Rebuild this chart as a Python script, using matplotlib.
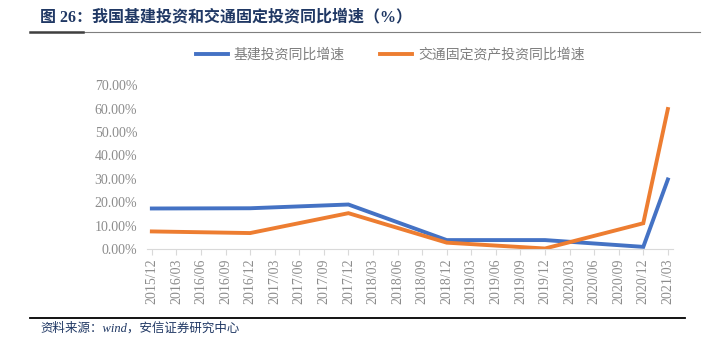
import numpy as np
import matplotlib
matplotlib.use("Agg")
import matplotlib.pyplot as plt
from matplotlib.lines import Line2D

plt.rcParams['font.family'] = ['Liberation Serif', 'Noto Sans CJK SC', 'DejaVu Sans']

dates = ["2015/12", "2016/03", "2016/06", "2016/09", "2016/12", "2017/03",
         "2017/06", "2017/09", "2017/12", "2018/03", "2018/06", "2018/09",
         "2018/12", "2019/03", "2019/06", "2019/09", "2019/12", "2020/03",
         "2020/06", "2020/09", "2020/12", "2021/03"]

nan = np.nan
infra = [17.3, nan, nan, nan, 17.4, nan, nan, nan, 19.0, nan, nan, nan,
         3.8, nan, nan, nan, 3.8, nan, nan, nan, 0.9, 29.7]
transport = [7.5, nan, nan, nan, 6.8, nan, nan, nan, 15.3, nan, nan, nan,
             2.7, nan, nan, nan, 0.2, nan, nan, nan, 11.0, 59.8]

series_names = ["基建投资同比增速", "交通固定资产投资同比增速"]
colors = ["#4472C4", "#ED7D31"]

fig = plt.figure(figsize=(7.03, 3.42), dpi=100)
ax = fig.add_axes([0.209, 0.272, 0.748, 0.479])

x = np.arange(len(dates))
for vals, c in zip([infra, transport], colors):
    v = np.array(vals, dtype=float)
    ok = ~np.isnan(v)
    ax.plot(x[ok], v[ok], color=c, lw=2.8, solid_joinstyle="miter")

ax.set_xlim(-0.2, len(dates) - 0.8)
ax.set_ylim(0, 70)
ax.set_yticks(np.arange(0, 71, 10))
ax.set_yticklabels([f"{t:.2f}%" for t in np.arange(0, 71, 10)])
ax.set_xticks(x)
ax.set_xticklabels(dates, rotation=90)

for s in ["top", "right", "left"]:
    ax.spines[s].set_visible(False)
ax.spines["bottom"].set_color("#d9d9d9")
ax.tick_params(axis="y", length=0, labelsize=10, colors="#8c8c8c", pad=7)
ax.tick_params(axis="x", length=4, color="#d9d9d9", labelsize=10,
               labelcolor="#8c8c8c", pad=3)

# legend
handles = [Line2D([0], [0], color=c, lw=2.8) for c in colors]
fig.legend(handles, series_names, loc="center", bbox_to_anchor=(0.555, 0.84),
           ncol=2, frameon=False, fontsize=10, handlelength=2.3,
           columnspacing=2.6, handletextpad=0.4, labelcolor="#7f7f7f")

# title and rules
fig.text(0.057, 0.95, "图 26：我国基建投资和交通固定投资同比增速（%）",
         fontsize=11.5, fontweight="bold", color="#203864", va="center")
fig.add_artist(Line2D([0.043, 0.996], [0.906, 0.906], color="#7f7f7f", lw=0.8))
fig.add_artist(Line2D([0.043, 0.118], [0.906, 0.906], color="#404040", lw=1.8))
fig.add_artist(Line2D([0.043, 0.975], [0.07, 0.07], color="black", lw=1.3))
fig.text(0.057, 0.04, "资料来源：wind，安信证券研究中心", fontsize=9,
         style="italic", color="#203864", va="center")

fig.savefig("out.png", dpi=100)
